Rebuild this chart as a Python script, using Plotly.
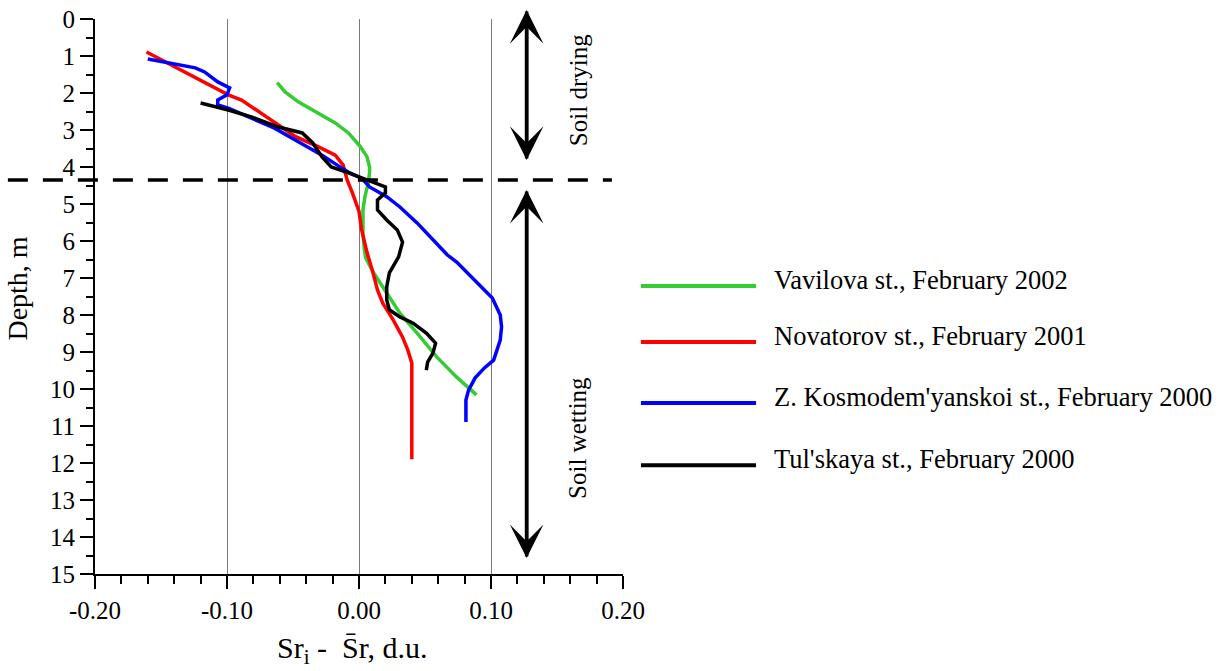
import plotly.graph_objects as go

# ---------------- data ----------------
series_names = [
    "Vavilova st., February 2002",
    "Novatorov st., February 2001",
    "Z. Kosmodem'yanskoi st., February 2000",
    "Tul'skaya st., February 2000",
]
series_colors = ["#33cc33", "#ff0000", "#0000ff", "#000000"]

vav_depth = [1.72, 1.97, 2.24, 2.51, 2.81, 3.08, 3.45, 3.72, 4.0, 4.16, 4.43, 4.8, 5.16, 5.5,
             5.8, 6.2, 6.45, 6.86, 7.4, 7.95, 8.49, 9.14, 9.68, 10.16]
vav_val = [-0.062, -0.056, -0.046, -0.033, -0.018, -0.008, 0.001, 0.006, 0.008, 0.008, 0.007,
           0.0045, 0.003, 0.003, 0.003, 0.004, 0.005, 0.011, 0.021, 0.031, 0.044, 0.059, 0.074, 0.089]

nov_depth = [0.89, 1.3, 1.57, 2.05, 2.19, 2.81, 3.18, 3.45, 3.68, 3.95, 4.35, 4.7, 5.2, 5.7,
             6.3, 6.78, 7.32, 7.68, 8.14, 8.6, 8.95, 9.3, 11.9]
nov_val = [-0.161, -0.139, -0.124, -0.099, -0.089, -0.064, -0.048, -0.031, -0.018, -0.012,
           -0.009, -0.005, 0.0, 0.002, 0.006, 0.010, 0.014, 0.018, 0.026, 0.033, 0.037, 0.040, 0.040]

kos_depth = [1.08, 1.19, 1.32, 1.43, 1.7, 1.86, 2.05, 2.19, 2.32, 2.41, 2.65, 2.95, 3.32, 3.68,
             4.03, 4.16, 4.3, 4.54, 4.8, 5.08, 5.51, 5.97, 6.38, 6.57, 7.0, 7.27, 7.54, 8.0, 8.32,
             8.68, 9.22, 9.43, 9.7, 10.03, 10.3, 10.89]
kos_val = [-0.160, -0.142, -0.124, -0.117, -0.107, -0.098, -0.100, -0.107, -0.107, -0.099,
           -0.084, -0.064, -0.046, -0.028, -0.013, -0.007, 0.002, 0.008, 0.021, 0.031, 0.044,
           0.056, 0.067, 0.074, 0.086, 0.093, 0.101, 0.107, 0.108, 0.107, 0.102, 0.095, 0.088,
           0.083, 0.081, 0.081]

tul_depth = [2.27, 2.46, 2.65, 2.92, 3.08, 3.35, 3.73, 4.0, 4.16, 4.3, 4.43, 4.54, 4.7, 4.89,
             5.16, 5.43, 5.7, 6.03, 6.43, 6.86, 7.24, 7.59, 7.86, 8.05, 8.22, 8.49, 8.76, 9.03,
             9.27, 9.49]
tul_val = [-0.120, -0.099, -0.081, -0.061, -0.043, -0.035, -0.028, -0.021, -0.008, 0.002, 0.012,
           0.020, 0.020, 0.014, 0.014, 0.021, 0.029, 0.033, 0.030, 0.023, 0.021, 0.021, 0.023,
           0.031, 0.041, 0.051, 0.058, 0.056, 0.052, 0.051]

x_tickvals = [-0.2, -0.1, 0.0, 0.1, 0.2]
x_ticktext = ["-0.20", "-0.10", "0.00", "0.10", "0.20"]
y_tickvals = list(range(0, 16))
y_ticktext = [str(v) for v in y_tickvals]

boundary_depth = 4.35
arrow_x = 0.127
drying_zone = [-0.24, 3.81]
wetting_zone = [4.62, 14.57]

# ---------------- figure ----------------
FONT = "Liberation Serif"
fig = go.Figure()

all_x = [vav_val, nov_val, kos_val, tul_val]
all_y = [vav_depth, nov_depth, kos_depth, tul_depth]
for name, col, xs, ys in zip(series_names, series_colors, all_x, all_y):
    fig.add_trace(go.Scatter(x=xs, y=ys, mode="lines", name=name,
                             line=dict(color=col, width=3.5), showlegend=False))

shapes = []
annotations = []

# boundary dashed line (paper coords so it extends over the axis)
yb = 1 - boundary_depth / 15.0
shapes.append(dict(type="line", xref="paper", yref="paper", x0=-0.165, x1=0.979, y0=yb, y1=yb,
                   line=dict(color="black", width=3.5, dash="20px,15px"), layer="above"))

# double arrows: each arrow runs the full zone, pointing to opposite ends
for z in (drying_zone, wetting_zone):
    for tip, tail in ((z[0], z[1]), (z[1], z[0])):
        annotations.append(dict(x=arrow_x, y=tip, ax=arrow_x, ay=tail, xref="x", yref="y",
                                axref="x", ayref="y", showarrow=True, arrowhead=3,
                                arrowsize=1.6, arrowwidth=3.5, arrowcolor="black", text=""))

annotations.append(dict(x=0.166, y=1.92, xref="x", yref="y", text="Soil drying", showarrow=False,
                        textangle=-90, font=dict(family=FONT, size=25, color="black")))
annotations.append(dict(x=0.166, y=11.32, xref="x", yref="y", text="Soil wetting", showarrow=False,
                        textangle=-90, font=dict(family=FONT, size=25, color="black")))

# manual legend
leg_line_y = [0.519, 0.418, 0.308, 0.196]
for name, col, ly in zip(series_names, series_colors, leg_line_y):
    shapes.append(dict(type="line", xref="paper", yref="paper", x0=1.034, x1=1.252, y0=ly, y1=ly,
                       line=dict(color=col, width=4)))
    annotations.append(dict(x=1.282, y=ly + 0.011, xref="paper", yref="paper", text=name,
                            showarrow=False, xanchor="left", yanchor="middle",
                            font=dict(family=FONT, size=26.5, color="black")))

# axis titles
annotations.append(dict(x=0.487, y=-0.137, xref="paper", yref="paper",
                        text="Sr<sub>i</sub> -  S\u0304r, d.u.", showarrow=False,
                        xanchor="center", yanchor="middle",
                        font=dict(family=FONT, size=30, color="black")))
annotations.append(dict(x=-0.147, y=0.515, xref="paper", yref="paper", text="Depth, m",
                        showarrow=False, textangle=-90, xanchor="center", yanchor="middle",
                        font=dict(family=FONT, size=28, color="black")))

fig.update_layout(
    width=1218, height=671, autosize=False,
    margin=dict(l=95, r=595, t=19, b=97, pad=0, autoexpand=False),
    paper_bgcolor="white", plot_bgcolor="white",
    font=dict(family=FONT, size=25, color="black"),
    shapes=shapes, annotations=annotations,
    showlegend=False,
)
fig.update_xaxes(range=[-0.2, 0.2], tickvals=x_tickvals, ticktext=x_ticktext, automargin=False,
                 showgrid=True, gridcolor="#7a7a7a", gridwidth=1, zeroline=False,
                 showline=True, linecolor="black", linewidth=2,
                 ticks="outside", ticklen=13, tickwidth=1.5, tickcolor="black",
                 minor=dict(dtick=0.02, tick0=0, ticks="outside", ticklen=8, tickwidth=1.5,
                            tickcolor="black", showgrid=False),
                 tickfont=dict(family=FONT, size=25))
fig.update_yaxes(range=[15, 0], tickvals=y_tickvals, ticktext=y_ticktext, automargin=False,
                 showgrid=False, zeroline=False,
                 showline=True, linecolor="black", linewidth=2,
                 ticks="outside", ticklen=13, tickwidth=1.5, tickcolor="black",
                 minor=dict(dtick=0.5, tick0=0, ticks="outside", ticklen=7, tickwidth=1.5,
                            tickcolor="black", showgrid=False),
                 tickfont=dict(family=FONT, size=25))

fig.write_html("out.html", config={"displayModeBar": False},
               post_script="document.body.style.margin='0';document.body.style.overflow='hidden';")
